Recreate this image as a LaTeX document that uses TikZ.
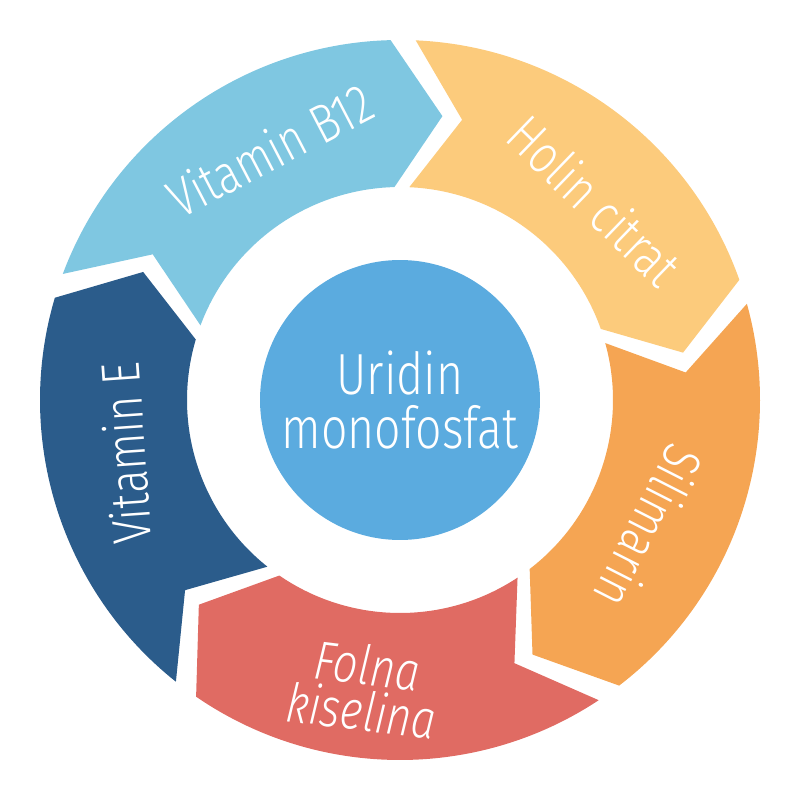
\documentclass[tikz,border=0pt]{standalone}
\usepackage{fontspec}
\setmainfont{Fira Sans}[UprightFont=* Light, ItalicFont=* Light Italic, FakeStretch=0.8]
\usetikzlibrary{positioning}
\definecolor{segsky}{HTML}{7FC7E1}
\definecolor{segsand}{HTML}{FCCB7C}
\definecolor{segorange}{HTML}{F5A553}
\definecolor{segcoral}{HTML}{E06B63}
\definecolor{segnavy}{HTML}{2B5C8B}
\definecolor{coreblue}{HTML}{5BABDF}
\tikzset{
    ring label/.style={text=white, inner sep=0pt, align=center, font=\fontsize{31}{26}\selectfont},
    core/.style={circle, fill=coreblue, minimum size=5.6cm, inner sep=0pt, text=white, align=center, font=\fontsize{33}{31}\selectfont}
}

\begin{document}
\begin{tikzpicture}[x=0.02cm, y=0.02cm]
	\useasboundingbox (-400,-400) rectangle (400,400);
	% ring of five arrows, clockwise
	\foreach \s/\col in {159.5/segsky, 87.5/segsand, 15.5/segorange, -56.5/segcoral, -128.5/segnavy}{
		\pgfmathsetmacro{\e}{\s-68}
		\pgfmathsetmacro{\t}{\s-78}
		\pgfmathsetmacro{\n}{\s-10}
		\fill[\col] (\s:360) arc[start angle=\s, end angle=\e, radius=360]
			-- (\t:287) -- (\e:213) arc[start angle=\e, end angle=\s, radius=213]
			-- (\n:287) -- cycle;
	}
	\node[core] (core) at (0,0) {Uridin\\monofosfat};
	\node[ring label, rotate=27.5] (b12) at (117.5:282) {Vitamin B12};
	\node[ring label, rotate=-44] (holin) at (45.7:279) {Holin citrat};
	\node[ring label, rotate=-117] (sili) at (-27:280) {Silimarin};
	\node[ring label, rotate=-7, font=\fontsize{31}{26}\selectfont\itshape] (folna) at (-97:290) {Folna\\kiselina};
	\node[ring label, rotate=94] (vite) at (191:280) {Vitamin E};
\end{tikzpicture}
\end{document}
